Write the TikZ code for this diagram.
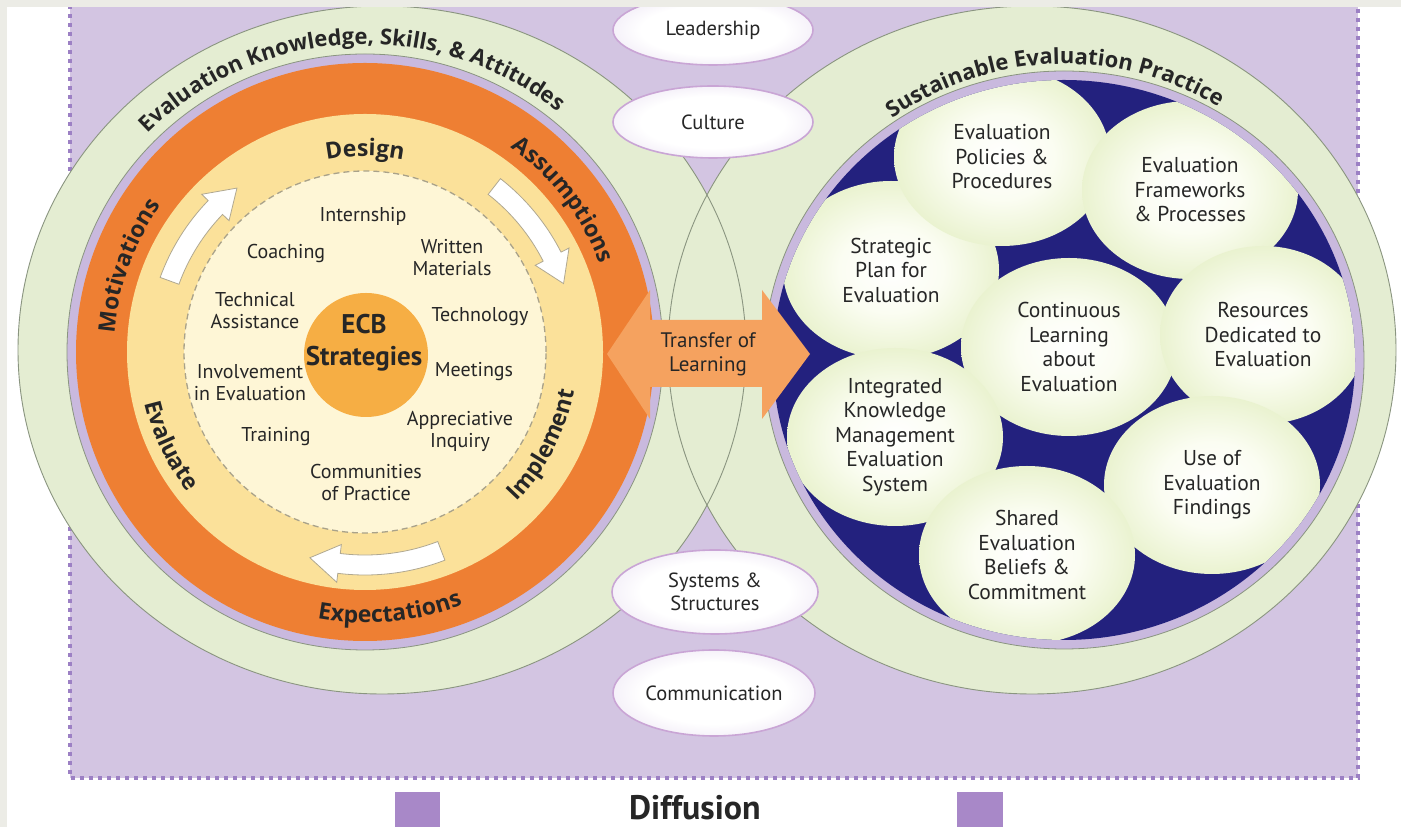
\documentclass[tikz,border=0pt]{standalone}
\usepackage{fontspec}
\setmainfont{PT Sans}
\newfontfamily\ringfam{Open Sans}
\usetikzlibrary{calc,decorations.text,shapes.geometric}
\definecolor{greybg}{HTML}{ECECE6}
\definecolor{lavbg}{HTML}{D3C5E2}
\definecolor{dotc}{HTML}{9C80C4}
\definecolor{ringgreen}{HTML}{E4EDD2}
\definecolor{ringline}{HTML}{8A9580}
\definecolor{ringlav}{HTML}{C9B9DE}
\definecolor{orng}{HTML}{EE7F33}
\definecolor{yell}{HTML}{FBE19A}
\definecolor{pale}{HTML}{FEF6D6}
\definecolor{dashc}{HTML}{A9A28A}
\definecolor{ecbor}{HTML}{F6AE44}
\definecolor{navy}{HTML}{23217E}
\definecolor{arrorange}{HTML}{F5A25F}
\definecolor{bubhi}{HTML}{FBFDF2}
\definecolor{bubmid}{HTML}{E6F0C8}
\definecolor{bubgreen}{HTML}{D3E4A5}
\definecolor{bubrim}{HTML}{BFD58A}
\definecolor{ovalmid}{HTML}{E6DCF0}
\definecolor{ovaledge}{HTML}{CDB6E0}
\definecolor{ovalline}{HTML}{C9A5D5}
\definecolor{txt}{HTML}{262626}
\definecolor{sqc}{HTML}{A888C8}
\definecolor{arrline}{HTML}{B0A890}
\pgfdeclareradialshading{bubble}{\pgfpoint{0bp}{0bp}}{color(0bp)=(white); color(12bp)=(bubhi); color(28bp)=(bubmid); color(42bp)=(bubgreen); color(50bp)=(bubrim)}
\pgfdeclareradialshading{ovalsh}{\pgfpoint{0bp}{0bp}}{color(0bp)=(white); color(18bp)=(white); color(36bp)=(ovalmid); color(50bp)=(ovaledge)}
\newcommand\ringfont{\ringfam\bfseries\fontsize{23}{23}\selectfont}
\newcommand\bigringfont{\ringfam\bfseries\fontsize{22}{22}\selectfont}
\newcommand\labfont{\fontsize{20}{22}\selectfont}
\newcommand\wcarrow[4]{%
  \filldraw[fill=white, draw=arrline, line width=0.8pt]
   ($(C1)+(#1:#4-10)$) arc[start angle=#1, end angle=#2, radius=#4-10]
   -- ($(C1)+(#2:#4-19)$) -- ($(C1)+(#3:#4)$) -- ($(C1)+(#2:#4+19)$)
   -- ($(C1)+(#2:#4+10)$) arc[start angle=#2, end angle=#1, radius=#4+10] -- cycle;}
\begin{document}
\begin{tikzpicture}[x=1pt,y=1pt,
  lbl/.style={font=\labfont, text=txt, align=center, inner sep=0pt},
  bub/.style={ellipse, shade, shading=bubble, minimum width=216pt, minimum height=178pt, inner sep=0pt, font=\fontsize{21.5}{24.5}\selectfont, text=txt, align=center},
  oval/.style={ellipse, shade, shading=ovalsh, draw=ovalline, line width=1.6pt, align=center, inner sep=0pt, font=\fontsize{20.5}{23}\selectfont, text=txt},
  arctext/.style={decorate, decoration={text along path, text align=center, text color=txt}},
  dotline/.style={draw=dotc, line width=4pt, dash pattern=on 4pt off 5pt}
]
\useasboundingbox (0,0) rectangle (1401,827);
\fill[greybg] (0,0) rectangle (1401,827);
\fill[white] (7,0) rectangle (1401,820);
% diffusion area
\fill[lavbg] (70,49) rectangle (1358,822);
\draw[dotline] (70,822) -- (70,49) -- (1358,49) -- (1358,822);
% outer rings
\fill[ringgreen] (382,477) ellipse[x radius=364, y radius=344];
\fill[ringgreen] (1032,477) ellipse[x radius=364, y radius=344];
\draw[ringline, line width=0.9pt] (382,477) ellipse[x radius=364, y radius=344];
\draw[ringline, line width=0.9pt] (1032,477) ellipse[x radius=364, y radius=344];
% left circle
\coordinate (C1) at (365,475);
\filldraw[fill=ringlav, draw=ringline, line width=0.8pt] (C1) circle[radius=298];
\fill[orng] (C1) circle[radius=289];
\fill[yell] (C1) circle[radius=238];
\filldraw[fill=pale, draw=dashc, line width=1.3pt, dash pattern=on 6pt off 4pt] (C1) circle[radius=181];
\node[circle, fill=ecbor, minimum size=124pt, inner sep=0pt] (ecb) at (366,472) {};
% white cycle arrows
\wcarrow{160}{136}{128}{208}
\wcarrow{52}{27}{19}{210}
\wcarrow{291}{263}{255}{213}
% right circle
\coordinate (C2) at (1064,467);
\filldraw[fill=ringlav, draw=ringline, line width=0.8pt] (C2) ellipse[x radius=300, y radius=289];
\fill[navy] (C2) ellipse[x radius=291, y radius=280];
\begin{scope}
\clip (C2) ellipse[x radius=291, y radius=280];
\node[bub] (strat) at (891,557) {Strategic\\Plan for\\Evaluation};
\node[bub] (pol) at (1002,670) {Evaluation\\Policies \&\\Procedures};
\node[bub] (frame) at (1190,637) {Evaluation\\Frameworks\\\& Processes};
\node[bub] (cont) at (1069,480) {Continuous\\Learning\\about\\Evaluation};
\node[bub, minimum width=206pt] (res) at (1263,492) {Resources\\Dedicated to\\Evaluation};
\node[bub] (integ) at (895,390) {Integrated\\Knowledge\\Management\\Evaluation\\System};
\node[bub] (use) at (1212,342) {Use of\\Evaluation\\Findings};
\node[bub] (shared) at (1027,272) {Shared\\Evaluation\\Beliefs \&\\Commitment};
\end{scope}
% culture ovals
\node[oval, minimum width=200pt, minimum height=70pt] (lead) at (713,797) {Leadership};
\node[oval, minimum width=200pt, minimum height=72pt] (cult) at (713,705) {Culture};
\node[oval, minimum width=206pt, minimum height=84pt] (sys) at (715,235) {Systems \&\\Structures};
\node[oval, minimum width=202pt, minimum height=86pt] (comm) at (714,134) {Communication};
% transfer arrow
\coordinate (tlc) at (708,473);
\fill[arrorange] ($(tlc)+(-101,0)$) -- ($(tlc)+(-58,64)$) -- ($(tlc)+(-58,34)$) -- ($(tlc)+(54,34)$) -- ($(tlc)+(54,64)$) -- ($(tlc)+(102,0)$) -- ($(tlc)+(54,-65)$) -- ($(tlc)+(54,-33)$) -- ($(tlc)+(-58,-33)$) -- ($(tlc)+(-58,-65)$) -- cycle;
\node[lbl, font=\fontsize{21}{24}\selectfont] (tl) at (tlc) {Transfer of\\Learning};
% ECB strategies
\node[lbl, font=\bfseries\fontsize{27}{32}\selectfont] (ecbt) at (364,484) {ECB\\Strategies};
\node[lbl] (intern) at (363,611) {Internship};
\node[lbl] (coach) at (286,573) {Coaching};
\node[lbl] (written) at (452,569) {Written\\Materials};
\node[lbl] (tech) at (255,516) {Technical\\Assistance};
\node[lbl] (techno) at (480,510) {Technology};
\node[lbl] (invol) at (250,444) {Involvement\\in Evaluation};
\node[lbl] (meet) at (474,455) {Meetings};
\node[lbl] (train) at (276,390) {Training};
\node[lbl] (appr) at (460,396) {Appreciative\\Inquiry};
\node[lbl] (cop) at (366,344) {Communities\\of Practice};
% arc texts
\path[arctext, decoration={text={|\bigringfont|Evaluation Knowledge, Skills, {\&} Attitudes}}] ($(C1)+(175:308)$) arc[start angle=175, end angle=11, radius=308];
\path[arctext, decoration={text={|\bigringfont|Sustainable Evaluation Practice}}] ($(C2)+(152:296)$) arc[start angle=152, end angle=32, radius=296];
\path[arctext, decoration={text={|\ringfont|Design}}] ($(C1)+(130:196)$) arc[start angle=130, end angle=50, radius=196];
\path[arctext, decoration={text={|\ringfont|Assumptions}}] ($(C1)+(75:251)$) arc[start angle=75, end angle=0, radius=251];
\path[arctext, decoration={text={|\ringfont|Motivations}}] ($(C1)+(200:251)$) arc[start angle=200, end angle=120, radius=251];
\path[arctext, decoration={text={|\ringfont|Expectations}}] ($(C1)+(240:271)$) arc[start angle=240, end angle=311, radius=271];
\path[arctext, decoration={text={|\ringfont|Evaluate}}] ($(C1)+(175:226)$) arc[start angle=175, end angle=236.4, radius=226];
\path[arctext, decoration={text={|\ringfont|Implement}}] ($(C1)+(300:213)$) arc[start angle=300, end angle=364.8, radius=213];
% diffusion label
\fill[sqc] (395,0) rectangle (440,35);
\fill[sqc] (957,0) rectangle (1003,35);
\node[lbl, font=\bfseries\fontsize{34}{36}\selectfont] (diff) at (695,19) {Diffusion};
% frame strips
\fill[greybg] (0,820) rectangle (1401,827);
\fill[greybg] (0,0) rectangle (7,827);
\end{tikzpicture}
\end{document}
